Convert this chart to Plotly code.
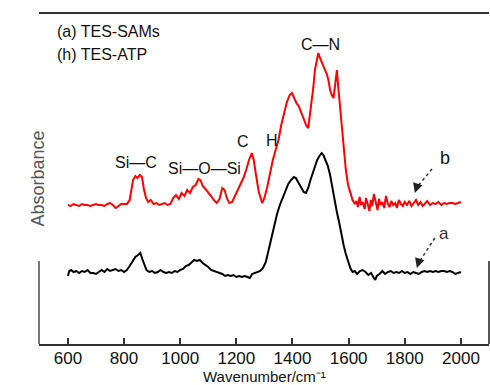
import plotly.graph_objects as go

# ---- data (wavenumber, absorbance in arbitrary units) ----
red_wn = [600, 610, 620, 630, 640, 650, 660, 670, 680, 690, 700, 710, 720, 730, 740, 750, 760, 770, 780, 790,
          800, 810, 820, 826, 832, 840, 848, 856, 864, 870, 878, 886, 895, 905, 915, 925, 935, 945, 955, 965,
          975, 985, 995, 1005, 1015, 1025, 1035, 1045, 1055, 1065, 1072, 1080, 1090, 1100, 1110, 1120, 1130,
          1140, 1150, 1158, 1166, 1175, 1185, 1195, 1205, 1215, 1225, 1235, 1245, 1255, 1262, 1270, 1280, 1292,
          1300, 1310, 1320, 1330, 1340, 1350, 1360, 1370, 1380, 1390, 1398, 1406, 1414, 1422, 1430, 1440, 1450,
          1456, 1462, 1468, 1474, 1480, 1486, 1492, 1498, 1504, 1510, 1516, 1522, 1528, 1534, 1540, 1546, 1552,
          1558, 1564, 1570, 1576, 1582, 1590, 1598, 1606, 1614, 1622, 1628, 1633, 1639, 1644, 1650, 1657, 1662,
          1667, 1674, 1679, 1684, 1690, 1697, 1703, 1708, 1714, 1720, 1727, 1733, 1740, 1746, 1752, 1759, 1766,
          1772, 1779, 1786, 1793, 1800, 1808, 1816, 1824, 1832, 1840, 1848, 1856, 1864, 1872, 1880, 1890, 1900,
          1910, 1920, 1930, 1940, 1950, 1960, 1970, 1980, 1990, 2000]
red_abs = [1.39, 1.38, 1.40, 1.39, 1.38, 1.40, 1.39, 1.39, 1.38, 1.39, 1.40, 1.39, 1.39, 1.38, 1.40, 1.41, 1.39, 1.36, 1.38, 1.40,
           1.40, 1.40, 1.44, 1.54, 1.64, 1.68, 1.66, 1.69, 1.67, 1.56, 1.46, 1.42, 1.44, 1.40, 1.41, 1.39, 1.40, 1.41, 1.39, 1.40,
           1.46, 1.49, 1.45, 1.51, 1.48, 1.54, 1.51, 1.57, 1.59, 1.65, 1.64, 1.58, 1.55, 1.52, 1.48, 1.44, 1.41,
           1.45, 1.56, 1.54, 1.46, 1.41, 1.42, 1.48, 1.54, 1.60, 1.66, 1.74, 1.84, 1.91, 1.84, 1.69, 1.52, 1.41,
           1.46, 1.57, 1.72, 1.84, 1.94, 2.04, 2.19, 2.32, 2.42, 2.49, 2.51, 2.46, 2.41, 2.38, 2.32, 2.26, 2.18,
           2.16, 2.29, 2.44, 2.56, 2.74, 2.84, 2.91, 2.86, 2.82, 2.78, 2.74, 2.70, 2.64, 2.54, 2.49, 2.46, 2.59,
           2.74, 2.54, 2.34, 2.14, 1.96, 1.74, 1.59, 1.51, 1.44, 1.40, 1.43, 1.37, 1.47, 1.39, 1.42, 1.35, 1.46,
           1.41, 1.33, 1.44, 1.38, 1.50, 1.40, 1.34, 1.45, 1.39, 1.42, 1.36, 1.48, 1.40, 1.37, 1.43, 1.39, 1.41,
           1.36, 1.44, 1.40, 1.38, 1.42, 1.39, 1.43, 1.38, 1.41, 1.44, 1.39, 1.42, 1.38, 1.41, 1.43, 1.39, 1.41,
           1.40, 1.42, 1.39, 1.41, 1.40, 1.41, 1.41, 1.40, 1.41, 1.42, 1.41]

black_wn = [600, 605, 612, 620, 630, 640, 650, 660, 670, 680, 690, 700, 710, 720, 730, 740, 750, 760, 770, 780,
            790, 800, 810, 820, 830, 840, 850, 858, 865, 872, 880, 890, 900, 910, 920, 930, 940, 950, 960, 970,
            980, 990, 1000, 1010, 1020, 1030, 1040, 1050, 1060, 1070, 1080, 1090, 1100, 1110, 1120, 1130, 1140,
            1150, 1160, 1170, 1180, 1190, 1200, 1210, 1220, 1230, 1240, 1248, 1256, 1265, 1275, 1285, 1295, 1305,
            1315, 1325, 1335, 1345, 1355, 1365, 1375, 1385, 1395, 1405, 1412, 1420, 1430, 1440, 1448, 1456, 1464,
            1472, 1480, 1488, 1496, 1504, 1510, 1518, 1526, 1534, 1542, 1550, 1558, 1566, 1574, 1582, 1590, 1598,
            1606, 1614, 1622, 1630, 1640, 1650, 1660, 1670, 1680, 1690, 1695, 1700, 1710, 1720, 1730, 1740, 1750,
            1760, 1770, 1780, 1790, 1800, 1810, 1820, 1830, 1840, 1850, 1860, 1870, 1880, 1890, 1900, 1910, 1920,
            1930, 1940, 1950, 1960, 1970, 1980, 1990, 2000]
black_abs = [0.68, 0.73, 0.74, 0.72, 0.73, 0.71, 0.73, 0.72, 0.74, 0.71, 0.71, 0.70, 0.72, 0.74, 0.72, 0.75, 0.73, 0.74, 0.75, 0.73,
             0.74, 0.72, 0.74, 0.78, 0.83, 0.87, 0.89, 0.91, 0.85, 0.79, 0.74, 0.72, 0.73, 0.71, 0.72, 0.74, 0.72, 0.71, 0.72, 0.71,
             0.73, 0.72, 0.74, 0.75, 0.78, 0.79, 0.82, 0.84, 0.83, 0.84, 0.81, 0.79, 0.77, 0.74, 0.73, 0.72, 0.71,
             0.70, 0.68, 0.69, 0.68, 0.69, 0.67, 0.68, 0.67, 0.68, 0.67, 0.66, 0.70, 0.71, 0.72, 0.73, 0.76, 0.82,
             0.94, 1.06, 1.19, 1.30, 1.39, 1.46, 1.54, 1.60, 1.64, 1.67, 1.66, 1.62, 1.56, 1.52, 1.51, 1.56, 1.64,
             1.71, 1.78, 1.84, 1.88, 1.91, 1.89, 1.84, 1.78, 1.69, 1.56, 1.44, 1.32, 1.22, 1.09, 0.99, 0.90, 0.82,
             0.76, 0.72, 0.73, 0.70, 0.73, 0.74, 0.72, 0.69, 0.71, 0.66, 0.64, 0.68, 0.70, 0.73, 0.70, 0.72, 0.73,
             0.71, 0.72, 0.71, 0.73, 0.71, 0.72, 0.70, 0.72, 0.71, 0.70, 0.72, 0.73, 0.72, 0.73, 0.72, 0.73, 0.72,
             0.73, 0.73, 0.72, 0.73, 0.72, 0.70, 0.71, 0.72]

x_ticks = [600, 800, 1000, 1200, 1400, 1600, 1800, 2000]
legend_lines = ["(a) TES-SAMs", "(h) TES-ATP"]
peak_labels = ["C\u2014N", "Si\u2014C", "Si\u2014O\u2014Si", "C", "H"]
peak_x = [1498, 842, 1088, 1223, 1327]
peak_y = [3.00, 1.82, 1.76, 2.03, 2.04]

FONT = "Liberation Sans, Arial, sans-serif"

fig = go.Figure()
fig.add_trace(go.Scatter(x=red_wn, y=red_abs, mode="lines",
                         line=dict(color="#ff0000", width=2), showlegend=False))
fig.add_trace(go.Scatter(x=black_wn, y=black_abs, mode="lines",
                         line=dict(color="#000000", width=2), showlegend=False))

XR = [497, 2100]
YR = [0, 3.31]

# frame pieces
fig.add_shape(type="line", xref="paper", yref="paper", x0=0, x1=1, y0=1, y1=1,
              line=dict(color="#333333", width=2))
fig.add_shape(type="line", xref="paper", yref="y", x0=0, x1=0, y0=0, y1=0.83,
              line=dict(color="#777777", width=2))
fig.add_shape(type="line", xref="paper", yref="y", x0=1, x1=1, y0=0, y1=0.83,
              line=dict(color="#555555", width=2))

# dashed arrows
arrows = [((1897, 1.75), (1836, 1.51)), ((1907, 1.06), (1843, 0.76))]
for (tx, ty), (hx, hy) in arrows:
    fig.add_shape(type="line", x0=tx, y0=ty, x1=hx + 8, y1=hy + 0.06,
                  line=dict(color="#333333", width=1.5, dash="dot"))
    fig.add_annotation(x=hx, y=hy, ax=hx + 10, ay=hy + 0.09, axref="x", ayref="y",
                       xref="x", yref="y", text="", showarrow=True, arrowhead=2,
                       arrowsize=1.3, arrowwidth=1.5, arrowcolor="#222222")

fig.add_annotation(x=1943, y=1.86, text="b", showarrow=False, xref="x", yref="y",
                   font=dict(size=18, color="#111111", family=FONT))
fig.add_annotation(x=1939, y=1.11, text="a", showarrow=False, xref="x", yref="y",
                   font=dict(size=17, color="#333333", family=FONT))

for i, t in enumerate(legend_lines):
    fig.add_annotation(x=554, y=[3.13, 2.90][i], text=t, showarrow=False, xanchor="left",
                       xref="x", yref="y", font=dict(size=16, color="#111111", family=FONT))

for t, px, py in zip(peak_labels, peak_x, peak_y):
    fig.add_annotation(x=px, y=py, text=t, showarrow=False, xref="x", yref="y",
                       font=dict(size=16, color="#111111", family=FONT))

# axis titles as annotations
fig.add_annotation(x=0.5, y=0, xref="paper", yref="paper", yanchor="top", yshift=-22,
                   text="Wavenumber/cm\u207b\u00b9", showarrow=False,
                   font=dict(size=15, color="#111111", family=FONT))
fig.add_annotation(x=0, y=0.5, xref="paper", yref="paper", xshift=-14, yshift=0,
                   text="Absorbance", textangle=-90, showarrow=False,
                   font=dict(size=18, color="#555555", family=FONT))

fig.update_xaxes(range=XR, tickvals=x_ticks, ticks="inside", ticklen=6, tickwidth=1.5,
                 tickcolor="#333333", showline=True, linecolor="#333333", linewidth=2,
                 showgrid=False, zeroline=False, mirror=False, ticklabelstandoff=-2,
                 tickfont=dict(size=17, color="#111111", family=FONT))
fig.update_yaxes(range=YR, showticklabels=False, showgrid=False, zeroline=False,
                 showline=False, ticks="")

fig.update_layout(width=490, height=385, margin=dict(l=39, r=1, t=13, b=41, autoexpand=False),
                  plot_bgcolor="white", paper_bgcolor="white", font=dict(family=FONT))

fig.write_html("out.html")
